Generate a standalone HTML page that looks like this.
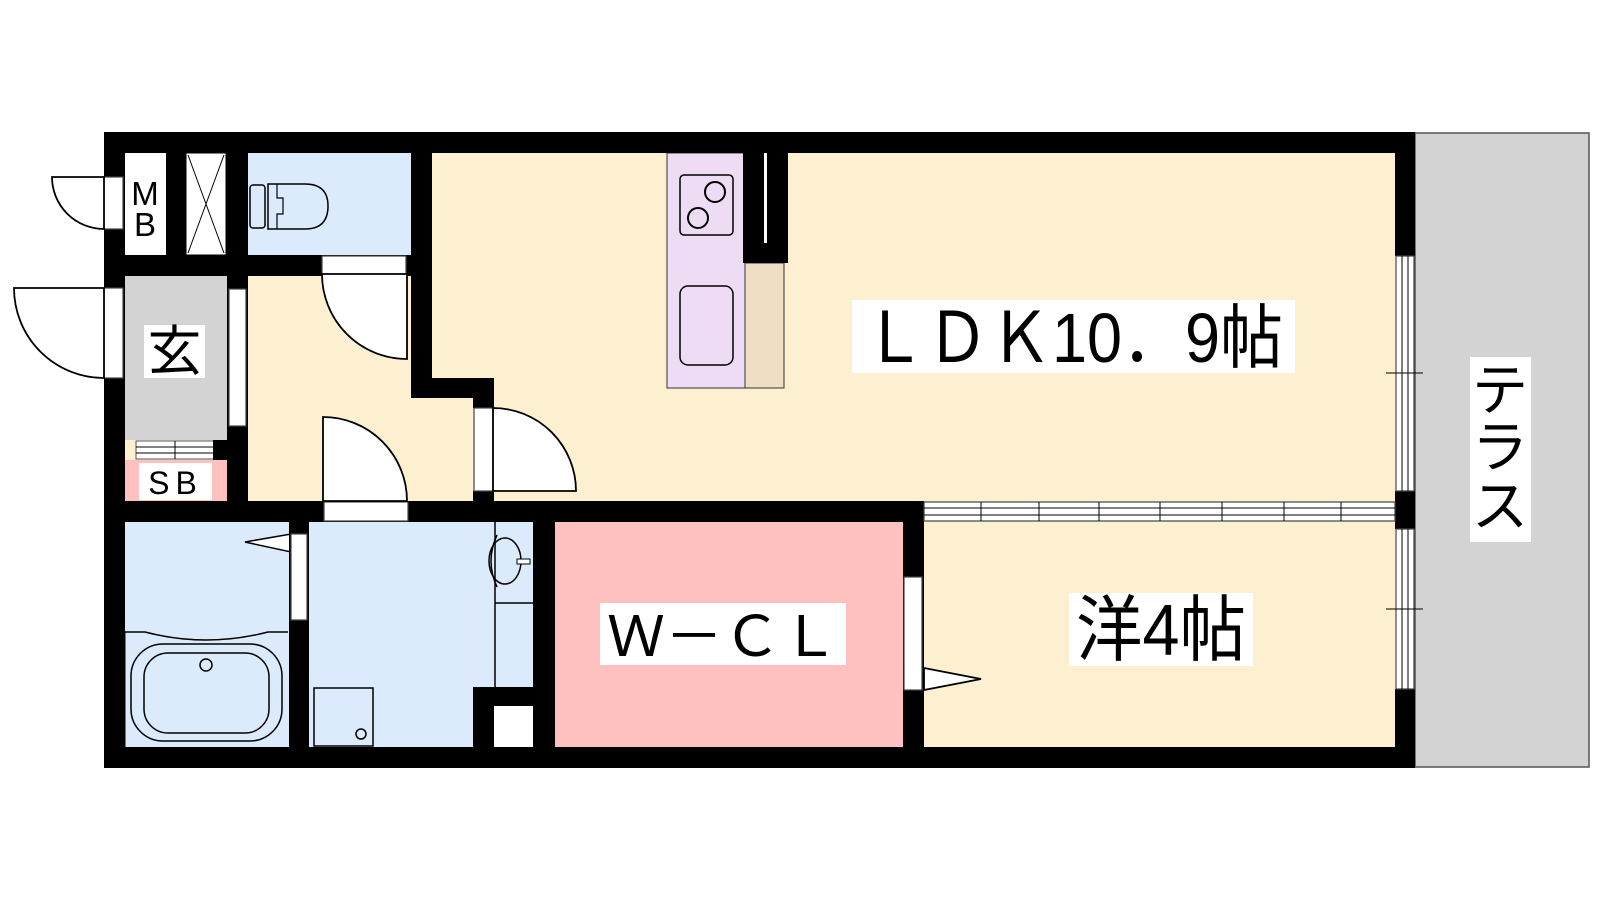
<!DOCTYPE html>
<html><head><meta charset="utf-8"><style>
html,body{margin:0;padding:0;background:#fff;width:1600px;height:900px;overflow:hidden}
svg{display:block}
text{font-family:"Liberation Sans","Noto Sans CJK JP",sans-serif;fill:#000}
</style></head><body>
<svg width="1600" height="900" viewBox="0 0 1600 900" xmlns="http://www.w3.org/2000/svg">
<!-- terrace -->
<rect x="1415" y="133" width="174" height="634" fill="#d3d3d3" stroke="#555" stroke-width="1.5"/>
<!-- interior cream -->
<rect x="125" y="153" width="1270" height="594" fill="#fdf0d0"/>
<!-- MB / PS white -->
<rect x="125" y="153" width="41" height="102" fill="#fff"/>
<rect x="186" y="153" width="40" height="102" fill="#fff" stroke="#000" stroke-width="1"/>
<line x1="188" y1="155" x2="224" y2="253" stroke="#000" stroke-width="1"/>
<line x1="224" y1="155" x2="188" y2="253" stroke="#000" stroke-width="1"/>
<!-- toilet -->
<rect x="248" y="153" width="163" height="102" fill="#dcebfc"/>
<rect x="250" y="185" width="15" height="43" rx="3" fill="none" stroke="#000" stroke-width="1.5"/>
<path d="M268 184 H305 Q328 184 328 206 Q328 229 305 229 H268 Z" fill="none" stroke="#000" stroke-width="1.5"/>
<path d="M277 184 V198 H283 V214 H277 V229" fill="none" stroke="#000" stroke-width="1.2"/>
<!-- genkan -->
<rect x="125" y="276" width="102" height="164" fill="#d3d3d3"/>
<rect x="125" y="460" width="102" height="41" fill="#ffc0c0"/>
<rect x="136" y="441" width="78" height="18" fill="#fff" stroke="#555" stroke-width="1"/>
<line x1="136" y1="447" x2="214" y2="447" stroke="#000" stroke-width="1"/>
<line x1="136" y1="453" x2="214" y2="453" stroke="#000" stroke-width="1"/>
<line x1="175" y1="441" x2="175" y2="459" stroke="#000" stroke-width="1"/>
<!-- bath & wash -->
<rect x="125" y="522" width="164" height="225" fill="#dcebfc"/>
<rect x="309" y="522" width="224" height="225" fill="#dcebfc"/>
<path d="M125 632 H145 Q206 648 268 632 H288" fill="none" stroke="#000" stroke-width="1.5"/>
<line x1="125" y1="632" x2="125" y2="747" stroke="#000"/>
<rect x="131" y="644" width="151" height="97" rx="32" fill="none" stroke="#000" stroke-width="1.5"/>
<rect x="144" y="653" width="125" height="80" rx="24" fill="none" stroke="#000" stroke-width="1.5"/>
<circle cx="206" cy="665" r="6" fill="none" stroke="#000" stroke-width="1.5"/>
<polygon points="245,542 291,534 291,552" fill="#fff" stroke="#000" stroke-width="1.5"/>
<rect x="314" y="688" width="59" height="58" fill="none" stroke="#000" stroke-width="1.5"/>
<circle cx="361" cy="734" r="5" fill="none" stroke="#000" stroke-width="1.5"/>
<line x1="495" y1="522" x2="495" y2="687" stroke="#000" stroke-width="1.5"/>
<line x1="495" y1="603" x2="533" y2="603" stroke="#000" stroke-width="1.5"/>
<ellipse cx="505" cy="561" rx="16" ry="23" fill="none" stroke="#000" stroke-width="1.5"/>
<path d="M497 535 Q485 561 497 587" fill="none" stroke="#000" stroke-width="1.5"/>
<rect x="517" y="559" width="13" height="5" fill="#fff" stroke="#000"/>
<!-- WCL -->
<rect x="555" y="522" width="348" height="225" fill="#ffc0c0"/>
<!-- kitchen -->
<rect x="667" y="153" width="78" height="235" fill="#eedcf4" stroke="#333" stroke-width="1"/>
<rect x="745" y="263" width="39" height="125" fill="#efdec4" stroke="#333" stroke-width="1"/>
<rect x="680" y="175" width="53" height="60" rx="4" fill="none" stroke="#000" stroke-width="1.5"/>
<circle cx="715" cy="192" r="10" fill="none" stroke="#000" stroke-width="2"/>
<circle cx="698" cy="218" r="10" fill="none" stroke="#000" stroke-width="2"/>
<rect x="680" y="286" width="53" height="79" rx="8" fill="none" stroke="#000" stroke-width="1.5"/>
<rect x="743" y="153" width="45" height="110" fill="#000"/>
<rect x="764" y="153" width="3" height="90" fill="#fff"/>
<!-- walls -->
<g fill="#000">
<rect x="104" y="132" width="1311" height="21"/>
<rect x="104" y="747" width="1311" height="21"/>
<rect x="104" y="132" width="21" height="636"/>
<rect x="1395" y="132" width="20" height="124"/>
<rect x="1395" y="491" width="20" height="38"/>
<rect x="1395" y="689" width="20" height="79"/>
<rect x="166" y="153" width="20" height="102"/>
<rect x="226" y="153" width="22" height="102"/>
<rect x="104" y="255" width="307" height="21"/>
<rect x="411" y="132" width="21" height="266"/>
<rect x="411" y="378" width="83" height="20"/>
<rect x="473" y="378" width="21" height="30"/>
<rect x="473" y="491" width="21" height="31"/>
<rect x="227" y="276" width="21" height="225"/>
<rect x="213" y="440" width="14" height="20"/>
<rect x="104" y="501" width="820" height="21"/>
<rect x="289" y="522" width="20" height="225"/>
<rect x="533" y="501" width="22" height="246"/>
<rect x="473" y="687" width="60" height="60"/>
<rect x="903" y="502" width="21" height="245"/>
</g>
<rect x="494" y="706" width="39" height="41" fill="#fff"/>
<!-- door/window frames -->
<g fill="#fff" stroke="#444" stroke-width="1.2">
<rect x="104" y="177" width="19" height="52"/>
<rect x="104" y="288" width="19" height="90"/>
<rect x="322" y="256" width="84" height="18"/>
<rect x="229" y="289" width="17" height="137"/>
<rect x="474" y="408" width="19" height="83"/>
<rect x="324" y="502" width="84" height="19"/>
<rect x="291" y="534" width="16" height="86"/>
<rect x="904" y="577" width="18" height="113"/>
<rect x="924" y="502" width="471" height="19"/>
<rect x="1396" y="256" width="18" height="235"/>
<rect x="1396" y="529" width="18" height="160"/>
</g>
<g stroke="#000" stroke-width="1">
<line x1="924" y1="508" x2="1395" y2="508"/><line x1="924" y1="515" x2="1395" y2="515"/>
<line x1="981" y1="502" x2="981" y2="521"/><line x1="1039" y1="502" x2="1039" y2="521"/>
<line x1="1099" y1="502" x2="1099" y2="521"/><line x1="1160" y1="502" x2="1160" y2="521"/>
<line x1="1222" y1="502" x2="1222" y2="521"/><line x1="1284" y1="502" x2="1284" y2="521"/>
<line x1="1341" y1="502" x2="1341" y2="521"/>
<line x1="1402" y1="256" x2="1402" y2="491"/><line x1="1408" y1="256" x2="1408" y2="491"/>
<line x1="1402" y1="529" x2="1402" y2="689"/><line x1="1408" y1="529" x2="1408" y2="689"/>
<line x1="1386" y1="373" x2="1423" y2="373"/><line x1="1386" y1="609" x2="1423" y2="609"/>
</g>
<!-- door leaves -->
<g fill="#fff" stroke="#000" stroke-width="1.8">
<path d="M104 177 H52 A52 52 0 0 0 104 229 Z"/>
<path d="M104 288 H14 A90 90 0 0 0 104 378 Z"/>
<path d="M407 274 H322 A85 85 0 0 0 407 359 Z"/>
<path d="M323 501 V417 A84 84 0 0 1 407 501 Z"/>
<path d="M493 491 V408 A83 83 0 0 1 576 491 Z"/>
<polygon points="924,668 981,679 924,690"/>
</g>
<!-- labels -->
<rect x="139" y="463" width="73" height="37" fill="#fff"/>
<text x="175.5" y="494" font-size="32" text-anchor="middle" letter-spacing="6">SB</text>
<text x="145" y="205" font-size="33" text-anchor="middle">M</text>
<text x="145" y="236" font-size="33" text-anchor="middle">B</text>
<rect x="144" y="325" width="61" height="53" fill="#fff"/>
<text x="174.5" y="370" font-size="54" text-anchor="middle">玄</text>
<rect x="852" y="300" width="443" height="73" fill="#fff"/>
<text x="1073" y="362" font-size="70" text-anchor="middle" textLength="420" lengthAdjust="spacingAndGlyphs">ＬＤＫ10．9帖</text>
<rect x="600" y="603" width="246" height="62" fill="#fff"/>
<text x="723" y="656" font-size="56" text-anchor="middle" textLength="232" lengthAdjust="spacingAndGlyphs">Ｗ－ＣＬ</text>
<rect x="1069" y="593" width="184" height="73" fill="#fff"/>
<text x="1161" y="655" font-size="72" text-anchor="middle" textLength="170" lengthAdjust="spacingAndGlyphs">洋4帖</text>
<rect x="1470" y="357" width="61" height="185" fill="#fff"/>
<text x="1500" y="410" font-size="56" text-anchor="middle">テ</text>
<text x="1500" y="467" font-size="56" text-anchor="middle">ラ</text>
<text x="1500" y="526" font-size="56" text-anchor="middle">ス</text>
</svg>
</body></html>
